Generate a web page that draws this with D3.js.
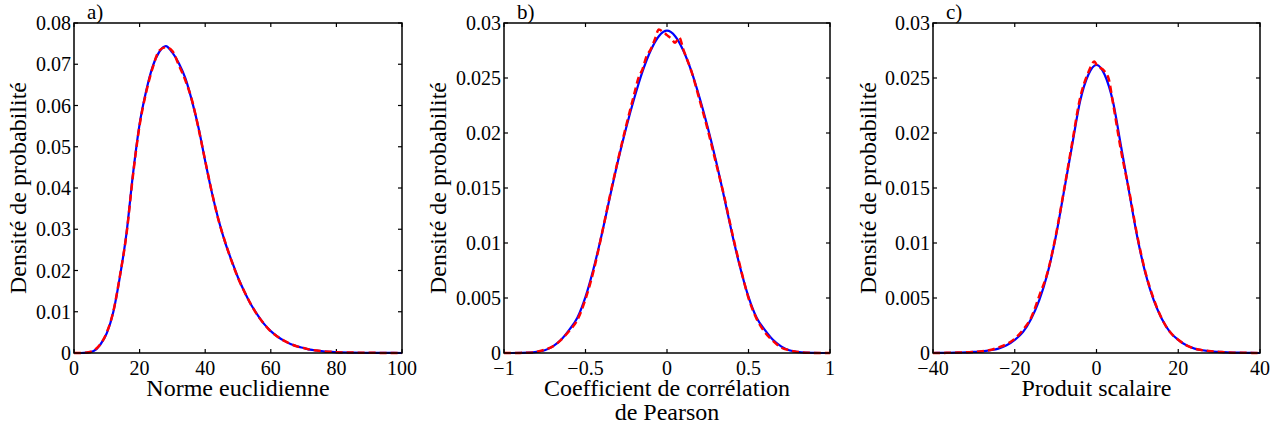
<!DOCTYPE html>
<html>
<head>
<meta charset="utf-8">
<script src="https://cdn.jsdelivr.net/npm/d3@7"></script>
<style>
  body { margin: 0; font-family: "Liberation Serif", Times, serif; }
  svg text { font-family: "Liberation Serif", Times, serif; }
</style>
</head>
<body>
<svg id="chart" width="1287" height="430" font-family="Liberation Serif"></svg>
<script>
// ---------- Panel a : Norme euclidienne ----------
const aX   = [0,2,4,6,8,10,12,14,16,18,20,22,24,26,28,30,32,34,36,38,40,42,44,46,48,50,52,54,56,58,60,62,64,66,68,70,72,74,76,78,80,85,90,95,100];
const aFit = [0,0,0.0001,0.0005,0.002,0.0048,0.0100,0.0185,0.0290,0.0435,0.0555,0.0635,0.0695,0.0730,0.0744,0.0728,0.0702,0.0665,0.0610,0.0545,0.0465,0.0390,0.0325,0.0270,0.0225,0.0183,0.0148,0.0117,0.0092,0.0070,0.0053,0.0040,0.0030,0.0022,0.0016,0.0012,0.0008,0.0006,0.0004,0.0003,0.0002,0.0001,0.00005,0.00002,0];
const aEmp = [0,0,0.0001,0.0006,0.0021,0.0050,0.0101,0.0187,0.0288,0.0432,0.0552,0.0632,0.0692,0.0733,0.0741,0.0732,0.0697,0.0660,0.0612,0.0543,0.0466,0.0391,0.0324,0.0271,0.0224,0.0182,0.0148,0.0117,0.0091,0.0070,0.0052,0.0040,0.0030,0.0022,0.0016,0.0012,0.0008,0.0006,0.0004,0.0003,0.0002,0.0001,0.00005,0.00002,0];
const aXTicks = [0,20,40,60,80,100];
const aXTickLabels = ["0","20","40","60","80","100"];
const aYTicks = [0,0.01,0.02,0.03,0.04,0.05,0.06,0.07,0.08];
const aYTickLabels = ["0","0.01","0.02","0.03","0.04","0.05","0.06","0.07","0.08"];

// ---------- Panel b : Coefficient de corrélation de Pearson ----------
const bX   = [-1,-0.95,-0.9,-0.85,-0.8,-0.75,-0.7,-0.65,-0.6,-0.55,-0.5,-0.45,-0.4,-0.35,-0.3,-0.25,-0.2,-0.15,-0.1,-0.05,0,0.05,0.1,0.15,0.2,0.25,0.3,0.35,0.4,0.45,0.5,0.55,0.6,0.65,0.7,0.75,0.8,0.85,0.9,0.95,1];
const bFit = [0,0,0.00001,0.00003,0.0001,0.00025,0.0006,0.0012,0.0021,0.0032,0.0051,0.0077,0.0108,0.0142,0.0175,0.0205,0.0232,0.0256,0.0275,0.0288,0.0293,0.0288,0.0275,0.0256,0.0232,0.0205,0.0175,0.0142,0.0108,0.0077,0.0051,0.0032,0.0021,0.0012,0.0006,0.00025,0.0001,0.00003,0.00001,0,0];
const bEmpX = [-1,-0.95,-0.9,-0.85,-0.8,-0.75,-0.7,-0.65,-0.6,-0.55,-0.5,-0.45,-0.4,-0.35,-0.3,-0.25,-0.2,-0.175,-0.15,-0.125,-0.1,-0.075,-0.05,-0.025,0,0.025,0.05,0.075,0.1,0.15,0.2,0.25,0.3,0.35,0.4,0.45,0.5,0.55,0.6,0.65,0.7,0.75,0.8,0.85,0.9,0.95,1];
const bEmp = [0,0,0.00001,0.00003,0.0001,0.0003,0.0006,0.0012,0.0020,0.0030,0.0049,0.0075,0.0108,0.0143,0.0176,0.0207,0.0236,0.0250,0.0258,0.0270,0.0276,0.0285,0.0294,0.0292,0.0289,0.0286,0.0282,0.0287,0.0276,0.0256,0.0230,0.0203,0.0173,0.0143,0.0109,0.0078,0.0050,0.0031,0.0019,0.0011,0.0005,0.00025,0.0001,0.00003,0.00001,0,0];
const bXTicks = [-1,-0.5,0,0.5,1];
const bXTickLabels = ["\u22121","\u22120.5","0","0.5","1"];
const bYTicks = [0,0.005,0.01,0.015,0.02,0.025,0.03];
const bYTickLabels = ["0","0.005","0.01","0.015","0.02","0.025","0.03"];

// ---------- Panel c : Produit scalaire ----------
const cX   = [-40,-38,-36,-34,-32,-30,-28,-26,-24,-22,-20,-18,-16,-14,-12,-10,-8,-6,-4,-2,0,2,4,6,8,10,12,14,16,18,20,22,24,26,28,30,32,34,36,38,40];
const cFit = [0,0.00001,0.00002,0.00004,0.00006,0.0001,0.00015,0.00025,0.0004,0.0007,0.0012,0.0019,0.0031,0.0048,0.0072,0.0105,0.0146,0.0188,0.0229,0.0253,0.0262,0.0253,0.0229,0.0188,0.0146,0.0105,0.0072,0.0048,0.0031,0.0019,0.0012,0.0007,0.0004,0.00025,0.00015,0.0001,0.00006,0.00004,0.00002,0.00001,0];
const cEmpX = [-40,-38,-36,-34,-32,-30,-28,-26,-24,-22,-20,-18,-16,-14,-12,-10,-8,-6,-4,-2,-0.5,0,2,3,4,6,8,10,12,14,16,18,20,22,24,26,28,30,32,34,36,38,40];
const cEmp = [0,0,0.00002,0.00004,0.00006,0.0001,0.00016,0.00028,0.0005,0.0008,0.0013,0.0021,0.0032,0.0052,0.0073,0.0106,0.0147,0.0190,0.0232,0.0255,0.0265,0.0262,0.0256,0.0249,0.0228,0.0184,0.0147,0.0106,0.0073,0.0049,0.0031,0.0019,0.0012,0.0007,0.0004,0.00025,0.00015,0.0001,0.00005,0.00003,0.00002,0.00001,0];
const cXTicks = [-40,-20,0,20,40];
const cXTickLabels = ["\u221240","\u221220","0","20","40"];
const cYTicks = bYTicks;
const cYTickLabels = bYTickLabels;

const yLabel = "Densité de probabilité";

const panels = [
  { tag: "a)", left: 74,  right: 402,  xDom: [0,100], yDom: [0,0.08], fitX: aX, fit: aFit, empX: aX, emp: aEmp,
    xt: aXTicks, xtl: aXTickLabels, yt: aYTicks, ytl: aYTickLabels, xLabel: ["Norme euclidienne"], yLabOff: 48 },
  { tag: "b)", left: 504, right: 830,  xDom: [-1,1], yDom: [0,0.03], fitX: bX, fit: bFit, empX: bEmpX, emp: bEmp,
    xt: bXTicks, xtl: bXTickLabels, yt: bYTicks, ytl: bYTickLabels, xLabel: ["Coefficient de corrélation","de Pearson"], yLabOff: 58 },
  { tag: "c)", left: 933, right: 1260, xDom: [-40,40], yDom: [0,0.03], fitX: cX, fit: cFit, empX: cEmpX, emp: cEmp,
    xt: cXTicks, xtl: cXTickLabels, yt: cYTicks, ytl: cYTickLabels, xLabel: ["Produit scalaire"], yLabOff: 57 }
];

const plotTop = 23, plotBottom = 353, tickLen = 4;
const svg = d3.select("#chart");
svg.append("rect").attr("width", 1287).attr("height", 430).attr("fill", "#fff");

function addText(sel, size) {
  return sel.attr("font-family", "Liberation Serif")
    .style("font-family", "\"Liberation Serif\", Times, serif")
    .style("font-size", size + "px").attr("fill", "#000");
}

panels.forEach(p => {
  const x = d3.scaleLinear().domain(p.xDom).range([p.left, p.right]);
  const y = d3.scaleLinear().domain(p.yDom).range([plotBottom, plotTop]);
  const g = svg.append("g");

  const clipId = "clip" + p.tag[0];
  svg.append("clipPath").attr("id", clipId).append("rect")
    .attr("x", p.left).attr("y", plotTop - 2).attr("width", p.right - p.left).attr("height", plotBottom - plotTop + 4);

  p.xt.forEach((v, i) => {
    g.append("line").attr("x1", x(v)).attr("x2", x(v)).attr("y1", plotBottom).attr("y2", plotBottom - tickLen).attr("stroke", "#000").attr("stroke-width", 1.2);
    g.append("line").attr("x1", x(v)).attr("x2", x(v)).attr("y1", plotTop).attr("y2", plotTop + tickLen).attr("stroke", "#000").attr("stroke-width", 1.2);
    addText(g.append("text").attr("x", x(v)).attr("y", 375).attr("text-anchor", "middle").text(p.xtl[i]), 20);
  });
  p.yt.forEach((v, i) => {
    g.append("line").attr("x1", p.left).attr("x2", p.left + tickLen).attr("y1", y(v)).attr("y2", y(v)).attr("stroke", "#000").attr("stroke-width", 1.2);
    g.append("line").attr("x1", p.right).attr("x2", p.right - tickLen).attr("y1", y(v)).attr("y2", y(v)).attr("stroke", "#000").attr("stroke-width", 1.2);
    addText(g.append("text").attr("x", p.left - 3).attr("y", y(v) + 7).attr("text-anchor", "end").text(p.ytl[i]), 20);
  });

  const line = (xs) => d3.line().x((d, i) => x(xs[i])).y(d => y(d)).curve(d3.curveMonotoneX);
  g.append("path").attr("clip-path", `url(#${clipId})`).attr("d", line(p.fitX)(p.fit))
    .attr("fill", "none").attr("stroke", "#0000ff").attr("stroke-width", 2.2);
  g.append("path").attr("clip-path", `url(#${clipId})`).attr("d", line(p.empX)(p.emp))
    .attr("fill", "none").attr("stroke", "#ff0000").attr("stroke-width", 2.5).attr("stroke-dasharray", "7,4");

  g.append("rect").attr("x", p.left).attr("y", plotTop).attr("width", p.right - p.left).attr("height", plotBottom - plotTop)
    .attr("fill", "none").attr("stroke", "#000").attr("stroke-width", 1.5);

  addText(g.append("text").attr("x", p.left + 13).attr("y", 19).text(p.tag), 21);

  p.xLabel.forEach((t, i) => {
    addText(g.append("text").attr("x", (p.left + p.right) / 2).attr("y", 396 + i * 24)
      .attr("text-anchor", "middle").text(t), 24);
  });

  addText(g.append("text").attr("transform", `translate(${p.left - p.yLabOff},${(plotTop + plotBottom) / 2}) rotate(-90)`)
    .attr("text-anchor", "middle").text(yLabel), 24);
});
</script>
</body>
</html>
